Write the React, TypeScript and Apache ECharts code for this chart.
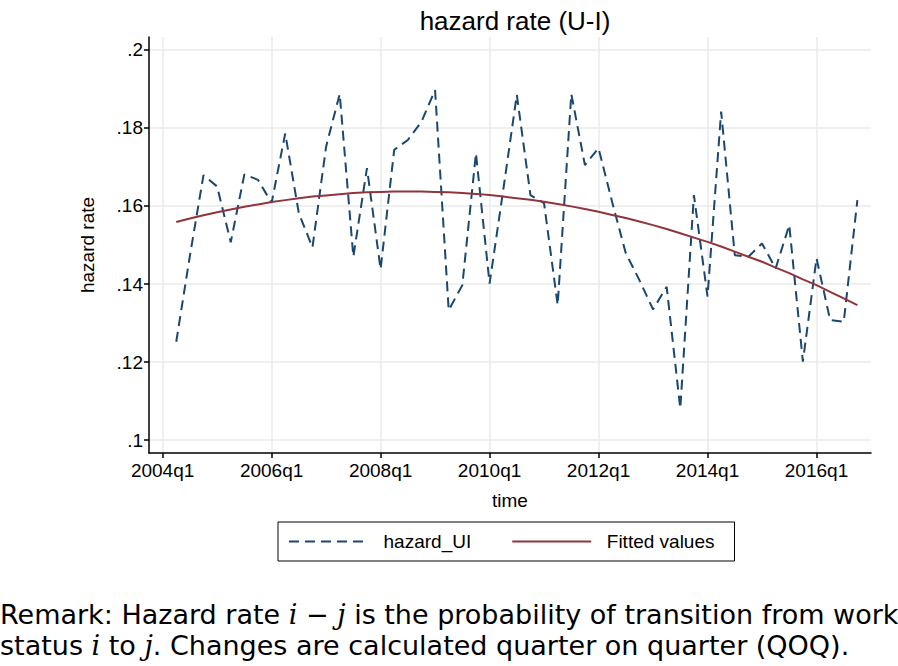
import React, { useEffect, useRef } from "react";
import * as echarts from "echarts";

// Quarter index: 0 = 2004q1. Series runs 2004q2 (index 1) .. 2016q4 (index 51)
const firstQuarterIndex = 1;
const hazardUI = [
  0.1252, 0.1472, 0.1679, 0.165, 0.1507, 0.1681, 0.1667, 0.1608, 0.1786, 0.1581,
  0.1494, 0.1752, 0.1887, 0.147, 0.1697, 0.1438, 0.1744, 0.1769, 0.1816, 0.1897,
  0.1333, 0.1397, 0.1735, 0.1401, 0.164, 0.1885, 0.1628, 0.1607, 0.1346, 0.1887,
  0.1705, 0.1748, 0.161, 0.1479, 0.141, 0.1335, 0.1393, 0.1081, 0.1628, 0.1368,
  0.1842, 0.1474, 0.147, 0.1504, 0.144, 0.1551, 0.1201, 0.1466, 0.1308, 0.1303,
  0.1615,
];
const fittedValues = [
  0.1559, 0.1568, 0.1576, 0.1584, 0.1591, 0.1598, 0.1604, 0.161, 0.1615, 0.162,
  0.1624, 0.1627, 0.163, 0.1633, 0.1635, 0.1636, 0.1637, 0.1637, 0.1637, 0.1636,
  0.1635, 0.1633, 0.1631, 0.1628, 0.1624, 0.162, 0.1616, 0.1611, 0.1605, 0.1599,
  0.1592, 0.1585, 0.1577, 0.1569, 0.156, 0.1551, 0.1541, 0.153, 0.1519, 0.1508,
  0.1496, 0.1483, 0.147, 0.1457, 0.1442, 0.1428, 0.1412, 0.1397, 0.138, 0.1363,
  0.1346,
];
const xTickPositions = [0, 8, 16, 24, 32, 40, 48];
const xTickLabels = ["2004q1", "2006q1", "2008q1", "2010q1", "2012q1", "2014q1", "2016q1"];
const yTickValues = [0.1, 0.12, 0.14, 0.16, 0.18, 0.2];
const yTickLabels = [".1", ".12", ".14", ".16", ".18", ".2"];

const NAVY = "#1a476f";
const MAROON = "#90353b";
const FONT = "'Liberation Sans', Arial, Helvetica, sans-serif";

export default function App() {
  const ref = useRef<HTMLDivElement>(null);
  useEffect(() => {
    if (!ref.current) return;
    const chart = echarts.init(ref.current, null, { renderer: "svg" });
    const pairs = (arr: number[]) => arr.map((v, i) => [i + firstQuarterIndex, v]);
    chart.setOption({
      animation: false,
      backgroundColor: "#ffffff",
      textStyle: { fontFamily: FONT },
      title: {
        text: "hazard rate (U-I)",
        left: 510,
        textAlign: "center",
        top: 3,
        textStyle: { fontFamily: FONT, fontSize: 26, fontWeight: "normal", color: "#000" },
      },
      grid: { left: 149, right: 27, top: 37, bottom: 213, containLabel: false },
      xAxis: {
        type: "value",
        min: -1,
        max: 52,
        name: "time",
        nameLocation: "middle",
        nameGap: 38,
        nameTextStyle: { fontFamily: FONT, fontSize: 19, color: "#000" },
        axisLine: { show: true, onZero: false, lineStyle: { color: "#000", width: 1.5 } },
        axisTick: { show: true, length: 5, customValues: xTickPositions, lineStyle: { color: "#000", width: 1.5 } },
        axisLabel: {
          customValues: xTickPositions,
          margin: 8,
          fontFamily: FONT,
          fontSize: 19,
          color: "#000",
          formatter: (v: number) => xTickLabels[xTickPositions.indexOf(Math.round(v))] ?? "",
        },
        splitLine: { show: true, lineStyle: { color: "#eaeaea", width: 1.5 } },
      },
      yAxis: {
        type: "value",
        min: 0.0967,
        max: 0.2033,
        name: "hazard rate",
        nameLocation: "middle",
        nameGap: 52,
        nameTextStyle: { fontFamily: FONT, fontSize: 19, color: "#000" },
        axisLine: { show: true, onZero: false, lineStyle: { color: "#000", width: 1.5 } },
        axisTick: { show: true, length: 5, customValues: yTickValues, lineStyle: { color: "#000", width: 1.5 } },
        axisLabel: {
          customValues: yTickValues,
          margin: 6,
          fontFamily: FONT,
          fontSize: 19,
          color: "#000",
          formatter: (v: number) => {
            const idx = yTickValues.findIndex((t) => Math.abs(t - v) < 1e-6);
            return idx >= 0 ? yTickLabels[idx] : "";
          },
        },
        splitLine: { show: true, lineStyle: { color: "#eaeaea", width: 1.5 } },
      },
      legend: {
        left: 278,
        top: 522,
        orient: "horizontal",
        padding: [10, 20, 10, 10],
        itemGap: 40,
        itemWidth: 79,
        itemHeight: 14,
        borderColor: "#000",
        borderWidth: 1,
        backgroundColor: "#fff",
        itemStyle: { color: "transparent", borderWidth: 0, opacity: 0 },
        textStyle: { fontFamily: FONT, fontSize: 19, color: "#000" },
        formatter: (name: string) => "  " + name,
        data: ["hazard_UI", "Fitted values"],
      },
      series: [
        {
          name: "hazard_UI",
          type: "line",
          data: pairs(hazardUI),
          symbol: "none",
          lineStyle: { color: NAVY, width: 2, type: [10, 6] },
          itemStyle: { color: NAVY },
        },
        {
          name: "Fitted values",
          type: "line",
          data: pairs(fittedValues),
          symbol: "none",
          lineStyle: { color: MAROON, width: 2 },
          itemStyle: { color: MAROON },
        },
      ],
      graphic: [
        {
          type: "text",
          left: 0,
          top: 599,
          style: {
            text:
              "Remark: Hazard rate {m|i} − {m|j} is the probability of transition from work\nstatus {m|i} to {m|j}. Changes are calculated quarter on quarter (QOQ).",
            fontFamily: "'DejaVu Sans', 'Liberation Sans', sans-serif",
            fontSize: 27,
            lineHeight: 31,
            fill: "#000",
            rich: {
              m: { fontFamily: "'DejaVu Serif', 'Liberation Serif', serif", fontStyle: "italic", fontSize: 27, lineHeight: 31 },
            },
          },
        },
      ],
    });
    return () => chart.dispose();
  }, []);
  return <div ref={ref} style={{ width: 898, height: 666, position: "absolute", left: 0, top: 0 }} />;
}
